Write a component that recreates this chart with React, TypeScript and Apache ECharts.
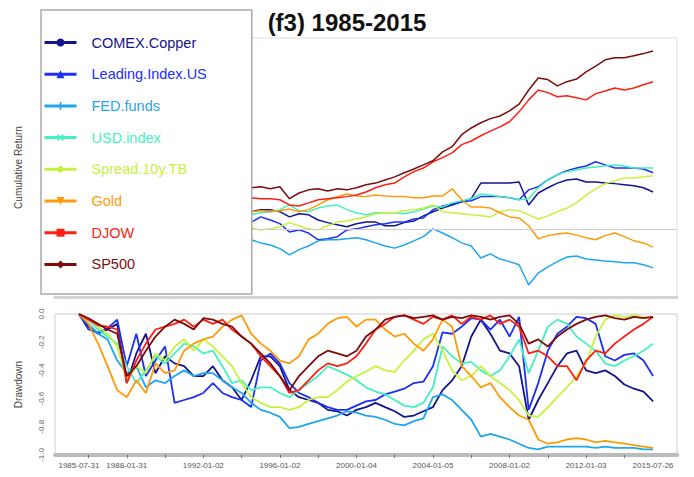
import React, { useEffect, useRef } from "react";
import * as echarts from "echarts";

const FONT = "'Liberation Sans', Arial, sans-serif";

const seriesNames = ["COMEX.Copper", "Leading.Index.US", "FED.funds", "USD.index", "Spread.10y.TB", "Gold", "DJOW", "SP500"];
const seriesColors = ["#14148c", "#1c30f5", "#1ea6ee", "#45f0c0", "#c6f23c", "#ff9a08", "#ff1e12", "#7c0c0c"];
const seriesSymbols = ["circle", "triangle", "path://M4,0h2v4h4v2h-4v4h-2v-4h-4v-2h4z", "path://M4,0h2v4h4v2h-4v4h-2v-4h-4v-2h4z", "diamond", "path://M0,0L10,0L5,9Z", "rect", "diamond"];
const seriesRotate = [0, 0, 0, 45, 0, 0, 0, 0];

const tickLabels = ["1985-07-31", "1988-01-31", "1992-01-02", "1996-01-02", "2000-01-04", "2004-01-05", "2008-01-02", "2012-01-03", "2015-07-26"];

// Cumulative return (half-yearly, 1985-07 .. 2015-07)
const cumCopper = [0, -0.05, 0.05, 0.15, 0.25, 0.35, 0.4, 0.3, 0.25, 0.2, 0.22, 0.18, 0.2, 0.25, 0.3, 0.35, 0.32, 0.34,
  0.33, 0.37, 0.37, 0.33, 0.23, 0.29, 0.27, 0.17, 0.12, 0.08, 0.04, 0.10, 0.13, 0.13, 0.06, 0.06, 0.12, 0.15, 0.25, 0.33,
  0.40, 0.46, 0.52, 0.58, 0.88, 0.88, 0.88, 0.88, 0.90, 0.46, 0.69, 0.79, 0.88, 0.94, 0.96, 0.90, 0.90, 0.88, 0.87, 0.85,
  0.83, 0.79, 0.71];
const cumLeading = [0, 0.05, 0.1, 0.15, 0.12, 0.18, 0.2, 0.17, 0.1, 0.05, 0.0, 0.03, 0.08, 0.12, 0.15, 0.13, 0.16, 0.12,
  0.13, 0.23, 0.17, 0.10, -0.06, -0.02, -0.08, -0.21, -0.19, -0.15, -0.02, 0, 0.04, 0.08, 0.10, 0.13, 0.13, 0.19, 0.21, 0.37,
  0.44, 0.48, 0.52, 0.54, 0.62, 0.62, 0.62, 0.60, 0.56, 0.75, 0.81, 0.94, 1.04, 1.12, 1.17, 1.21, 1.29, 1.23, 1.17, 1.17,
  1.17, 1.15, 1.08];
const cumFed = [0, -0.05, -0.1, -0.08, -0.15, -0.1, -0.05, 0.0, -0.05, -0.1, -0.15, -0.2, -0.18, -0.22, -0.2, -0.25, -0.22, -0.2,
  -0.21, -0.27, -0.31, -0.38, -0.50, -0.40, -0.33, -0.23, -0.21, -0.21, -0.19, -0.17, -0.21, -0.27, -0.33, -0.37, -0.31, -0.23, -0.15, 0,
  -0.08, -0.17, -0.27, -0.33, -0.56, -0.48, -0.58, -0.63, -0.69, -1.08, -0.85, -0.73, -0.63, -0.54, -0.52, -0.58, -0.60, -0.62, -0.63, -0.65,
  -0.65, -0.69, -0.75];
const cumUsd = [0, -0.05, 0.05, 0.1, 0.08, 0.15, 0.12, 0.2, 0.18, 0.22, 0.25, 0.2, 0.28, 0.3, 0.26, 0.3, 0.32, 0.29,
  0.27, 0.31, 0.33, 0.37, 0.46, 0.35, 0.33, 0.40, 0.44, 0.46, 0.37, 0.31, 0.27, 0.31, 0.31, 0.31, 0.29, 0.33, 0.38, 0.44,
  0.42, 0.50, 0.54, 0.58, 0.67, 0.65, 0.62, 0.60, 0.56, 0.58, 0.79, 0.94, 1.04, 1.10, 1.13, 1.17, 1.19, 1.21, 1.23, 1.21,
  1.17, 1.17, 1.17];
const cumSpread = [0, 0.05, -0.02, 0.08, 0.0, 0.05, 0.1, 0.06, 0.12, 0.1, 0.04, 0.08, 0.0, 0.05, 0.03, 0.08, 0.02, 0.01,
  0.02, -0.02, 0, 0.04, 0.12, 0.06, 0, -0.02, 0.06, 0.13, 0.15, 0.19, 0.23, 0.29, 0.31, 0.31, 0.35, 0.37, 0.40, 0.46,
  0.33, 0.31, 0.29, 0.27, 0.25, 0.23, 0.33, 0.37, 0.35, 0.27, 0.19, 0.25, 0.33, 0.40, 0.50, 0.65, 0.77, 0.87, 0.92, 0.98,
  0.98, 1.00, 1.02];
const cumGold = [0, 0.1, 0.2, 0.25, 0.3, 0.28, 0.22, 0.2, 0.15, 0.18, 0.2, 0.22, 0.25, 0.28, 0.3, 0.32, 0.3, 0.33,
  0.33, 0.35, 0.33, 0.35, 0.38, 0.33, 0.37, 0.46, 0.56, 0.62, 0.67, 0.63, 0.62, 0.65, 0.63, 0.62, 0.62, 0.60, 0.60, 0.63,
  0.63, 0.77, 0.56, 0.42, 0.42, 0.40, 0.31, 0.23, 0.21, 0.06, -0.19, -0.13, -0.10, -0.08, -0.12, -0.17, -0.21, -0.13, -0.08, -0.15,
  -0.23, -0.27, -0.35];
const cumDjow = [0, 0.05, 0.15, 0.28, 0.05, 0.1, 0.18, 0.25, 0.35, 0.3, 0.32, 0.4, 0.45, 0.47, 0.52, 0.55, 0.6, 0.58,
  0.60, 0.58, 0.58, 0.56, 0.46, 0.44, 0.50, 0.56, 0.58, 0.60, 0.62, 0.65, 0.71, 0.79, 0.85, 0.88, 1.00, 1.10, 1.17, 1.29,
  1.37, 1.46, 1.62, 1.69, 1.79, 1.88, 1.96, 2.06, 2.25, 2.48, 2.67, 2.62, 2.54, 2.56, 2.52, 2.48, 2.60, 2.65, 2.71, 2.67,
  2.71, 2.77, 2.83];
const cumSp500 = [0, 0.08, 0.2, 0.35, 0.1, 0.15, 0.25, 0.35, 0.45, 0.4, 0.45, 0.55, 0.6, 0.62, 0.7, 0.72, 0.78, 0.76,
  0.79, 0.81, 0.77, 0.81, 0.58, 0.69, 0.75, 0.77, 0.73, 0.77, 0.75, 0.79, 0.85, 0.88, 0.94, 1.00, 1.08, 1.15, 1.23, 1.31,
  1.48, 1.58, 1.81, 1.94, 2.04, 2.12, 2.17, 2.27, 2.40, 2.67, 2.90, 2.87, 2.75, 2.83, 2.88, 3.02, 3.13, 3.25, 3.29, 3.29,
  3.33, 3.37, 3.42];

// Drawdown
const ddCopper = [0, -0.09, -0.14, -0.11, -0.07, -0.49, -0.28, -0.14, -0.42, -0.30, -0.35, -0.37, -0.44, -0.44, -0.37, -0.47, -0.52, -0.61, -0.47, -0.30,
  -0.30, -0.37, -0.54, -0.59, -0.61, -0.63, -0.68, -0.69, -0.72, -0.68, -0.66, -0.63, -0.66, -0.69, -0.73, -0.72, -0.69, -0.66, -0.54, -0.47,
  -0.37, -0.16, -0.04, -0.14, -0.26, -0.28, -0.37, -0.75, -0.61, -0.49, -0.37, -0.28, -0.26, -0.40, -0.42, -0.40, -0.44, -0.50, -0.53, -0.55, -0.62];
const ddLeading = [0, -0.11, -0.13, -0.10, -0.04, -0.37, -0.14, -0.44, -0.33, -0.23, -0.63, -0.61, -0.59, -0.56, -0.49, -0.56, -0.59, -0.61, -0.66, -0.33,
  -0.28, -0.35, -0.49, -0.56, -0.59, -0.63, -0.66, -0.68, -0.68, -0.65, -0.62, -0.61, -0.57, -0.55, -0.53, -0.49, -0.48, -0.37, -0.13, -0.14,
  -0.09, -0.03, -0.04, -0.11, -0.04, -0.16, -0.02, -0.68, -0.49, -0.26, -0.14, -0.09, -0.02, -0.03, -0.07, -0.30, -0.33, -0.29, -0.28, -0.33, -0.44];
const ddFed = [0, -0.07, -0.14, -0.18, -0.33, -0.42, -0.37, -0.52, -0.47, -0.49, -0.44, -0.40, -0.44, -0.42, -0.42, -0.47, -0.52, -0.56, -0.63, -0.68,
  -0.70, -0.73, -0.81, -0.80, -0.78, -0.76, -0.74, -0.72, -0.69, -0.70, -0.72, -0.73, -0.75, -0.78, -0.79, -0.76, -0.74, -0.59, -0.57, -0.61,
  -0.68, -0.75, -0.87, -0.85, -0.87, -0.89, -0.92, -0.95, -0.96, -0.94, -0.94, -0.94, -0.94, -0.94, -0.95, -0.94, -0.95, -0.95, -0.95, -0.96, -0.96];
const ddUsd = [0, -0.04, -0.11, -0.16, -0.21, -0.37, -0.49, -0.40, -0.30, -0.35, -0.28, -0.21, -0.23, -0.28, -0.26, -0.37, -0.49, -0.47, -0.54, -0.52,
  -0.52, -0.56, -0.59, -0.54, -0.49, -0.44, -0.37, -0.40, -0.43, -0.47, -0.52, -0.55, -0.57, -0.61, -0.65, -0.66, -0.63, -0.52, -0.23, -0.30,
  -0.35, -0.34, -0.40, -0.44, -0.40, -0.30, -0.18, -0.42, -0.26, -0.09, -0.04, -0.07, -0.16, -0.21, -0.26, -0.35, -0.37, -0.33, -0.30, -0.26, -0.21];
const ddSpread = [0, -0.04, -0.09, -0.14, -0.23, -0.47, -0.37, -0.42, -0.28, -0.33, -0.23, -0.18, -0.26, -0.18, -0.23, -0.30, -0.37, -0.49, -0.59, -0.63,
  -0.66, -0.66, -0.68, -0.66, -0.61, -0.59, -0.59, -0.54, -0.48, -0.44, -0.41, -0.37, -0.40, -0.41, -0.33, -0.26, -0.18, -0.14, -0.26, -0.40,
  -0.47, -0.44, -0.37, -0.44, -0.49, -0.54, -0.61, -0.72, -0.73, -0.66, -0.59, -0.52, -0.44, -0.35, -0.16, -0.04, -0.01, -0.02, -0.01, -0.02, -0.03];
const ddGold = [0, -0.07, -0.21, -0.37, -0.54, -0.59, -0.47, -0.56, -0.35, -0.42, -0.40, -0.26, -0.21, -0.18, -0.16, -0.09, -0.04, -0.01, -0.14, -0.21,
  -0.26, -0.33, -0.35, -0.30, -0.18, -0.14, -0.07, -0.03, -0.02, -0.09, -0.04, -0.04, -0.11, -0.16, -0.14, -0.21, -0.26, -0.18, -0.04, -0.09,
  -0.37, -0.44, -0.52, -0.49, -0.59, -0.66, -0.72, -0.75, -0.89, -0.92, -0.91, -0.89, -0.88, -0.89, -0.91, -0.90, -0.91, -0.92, -0.93, -0.94, -0.95];
const ddDjow = [0, -0.04, -0.08, -0.09, -0.11, -0.49, -0.33, -0.21, -0.11, -0.09, -0.07, -0.04, -0.09, -0.04, -0.07, -0.04, -0.11, -0.16, -0.21, -0.30,
  -0.37, -0.44, -0.56, -0.54, -0.47, -0.40, -0.35, -0.37, -0.35, -0.30, -0.21, -0.11, -0.07, -0.02, -0.01, -0.04, -0.07, -0.02, -0.04, -0.01,
  -0.07, -0.02, -0.04, -0.01, -0.07, -0.04, -0.09, -0.28, -0.26, -0.30, -0.37, -0.37, -0.47, -0.33, -0.26, -0.28, -0.21, -0.16, -0.11, -0.07, -0.02];
const ddSp500 = [0, -0.03, -0.07, -0.11, -0.14, -0.44, -0.37, -0.26, -0.16, -0.09, -0.04, -0.07, -0.11, -0.03, -0.04, -0.07, -0.09, -0.16, -0.21, -0.28,
  -0.35, -0.44, -0.54, -0.44, -0.37, -0.30, -0.26, -0.28, -0.30, -0.26, -0.16, -0.11, -0.04, -0.02, -0.01, -0.03, -0.02, -0.01, -0.04, -0.02,
  -0.03, -0.01, -0.02, -0.04, -0.02, -0.01, -0.07, -0.21, -0.18, -0.23, -0.16, -0.11, -0.07, -0.04, -0.02, -0.01, -0.03, -0.04, -0.02, -0.03, -0.02];

const cumData = [cumCopper, cumLeading, cumFed, cumUsd, cumSpread, cumGold, cumDjow, cumSp500];
const ddData = [ddCopper, ddLeading, ddFed, ddUsd, ddSpread, ddGold, ddDjow, ddSp500];

const N = 61;
const PAD = 2;

function buildCategories(): string[] {
  const cats: string[] = [];
  for (let p = 0; p < PAD; p++) cats.push(" ".repeat(p + 1));
  for (let i = 0; i < N; i++) {
    const m = 6 + 6 * i;
    const y = 1985 + Math.floor(m / 12);
    const mo = (m % 12) + 1;
    const key = `${y}-${String(mo).padStart(2, "0")}`;
    const lab = tickLabels.find((t) => t.startsWith(key));
    cats.push(lab ?? key);
  }
  for (let p = 0; p < PAD; p++) cats.push(" ".repeat(PAD + p + 1));
  return cats;
}

export default function App() {
  const ref = useRef<HTMLDivElement>(null);
  useEffect(() => {
    if (!ref.current) return;
    document.body.style.margin = "0";
    const chart = echarts.init(ref.current, undefined, { renderer: "svg" });
    const cats = buildCategories();
    const pad = (arr: number[]) => [...Array(PAD).fill(null), ...arr];
    const tickInterval = (idx: number) => {
      const i = idx - PAD;
      return i >= 1 && i < N && (i - 1) % 4 === 0;
    };

    const top: any[] = seriesNames.map((name, s) => ({
      type: "line",
      name,
      xAxisIndex: 0,
      yAxisIndex: 0,
      data: pad(cumData[s]),
      showSymbol: false,
      symbol: seriesSymbols[s],
      symbolRotate: seriesRotate[s],
      lineStyle: { width: 1.5, color: seriesColors[s] },
      itemStyle: { color: seriesColors[s] },
      emphasis: { disabled: true },
      ...(s === 0
        ? {
            markLine: {
              silent: true,
              symbol: "none",
              label: { show: false },
              lineStyle: { color: "#cfcfcf", width: 1, type: "solid" },
              data: [{ yAxis: 0 }],
            },
          }
        : {}),
    }));
    const bottom: any[] = seriesNames.map((name, s) => ({
      type: "line",
      name,
      xAxisIndex: 1,
      yAxisIndex: 1,
      data: pad(ddData[s]),
      showSymbol: false,
      symbol: seriesSymbols[s],
      lineStyle: { width: 1.8, color: seriesColors[s] },
      itemStyle: { color: seriesColors[s] },
      emphasis: { disabled: true },
    }));

    chart.setOption({
      animation: false,
      backgroundColor: "#ffffff",
      textStyle: { fontFamily: FONT },
      title: {
        text: "(f3) 1985-2015",
        left: "center",
        top: 5,
        textStyle: { fontSize: 24, fontWeight: "bold", color: "#111", fontFamily: FONT },
      },
      legend: {
        orient: "vertical",
        left: 41,
        top: 10,
        data: seriesNames.map((n, i) => ({ name: n, textStyle: { color: seriesColors[i] } })),
        itemWidth: 32,
        itemHeight: 10,
        itemGap: 16.7,
        padding: [25, 45, 22, 2],
        backgroundColor: "#ffffff",
        borderColor: "#aaaaaa",
        borderWidth: 1.5,
        selectedMode: false,
        lineStyle: { width: 3 },
        textStyle: { fontSize: 14.5, fontFamily: FONT, padding: [0, 0, 0, 10] },
        z: 10,
      },
      grid: [
        { left: 55, right: 17, top: 38, height: 259, show: true, borderColor: "#dddddd", borderWidth: 1 },
        { left: 55, right: 17, top: 314, height: 141, show: true, borderColor: "#cccccc", borderWidth: 1 },
      ],
      xAxis: [
        {
          type: "category",
          gridIndex: 0,
          data: cats,
          boundaryGap: true,
          axisLine: { show: true, onZero: false, lineStyle: { color: "#d4d4d4", width: 3 } },
          axisTick: { show: false },
          axisLabel: { show: false },
          splitLine: { show: false },
        },
        {
          type: "category",
          gridIndex: 1,
          data: cats,
          boundaryGap: true,
          axisLine: { show: true, onZero: false, lineStyle: { color: "#bbbbbb", width: 4 } },
          axisTick: { show: true, alignWithLabel: true, interval: tickInterval, length: 3, lineStyle: { color: "#777" } },
          axisLabel: {
            show: true,
            interval: (idx: number, val: string) => tickLabels.includes(val),
            fontSize: 8,
            color: "#555",
            margin: 6,
            fontFamily: FONT,
          },
          splitLine: { show: false },
        },
      ],
      yAxis: [
        {
          type: "value",
          gridIndex: 0,
          min: -1.31,
          max: 3.67,
          name: "Cumulative Return",
          nameLocation: "middle",
          nameGap: 32,
          nameTextStyle: { fontSize: 10, color: "#444", fontFamily: FONT },
          axisLine: { show: false },
          axisTick: { show: false },
          axisLabel: { show: false },
          splitLine: { show: false },
        },
        {
          type: "value",
          gridIndex: 1,
          min: -1,
          max: 0,
          interval: 0.2,
          name: "Drawdown",
          nameLocation: "middle",
          nameGap: 32,
          nameTextStyle: { fontSize: 10, color: "#444", fontFamily: FONT },
          axisLine: { show: false },
          axisTick: { show: false },
          axisLabel: {
            rotate: 90,
            fontSize: 8,
            color: "#666",
            margin: 10,
            fontFamily: FONT,
            formatter: (v: number) => v.toFixed(1),
          },
          splitLine: { show: false },
        },
      ],
      series: [...top, ...bottom],
    });
    return () => chart.dispose();
  }, []);
  return <div ref={ref} style={{ width: 694, height: 477 }} />;
}
